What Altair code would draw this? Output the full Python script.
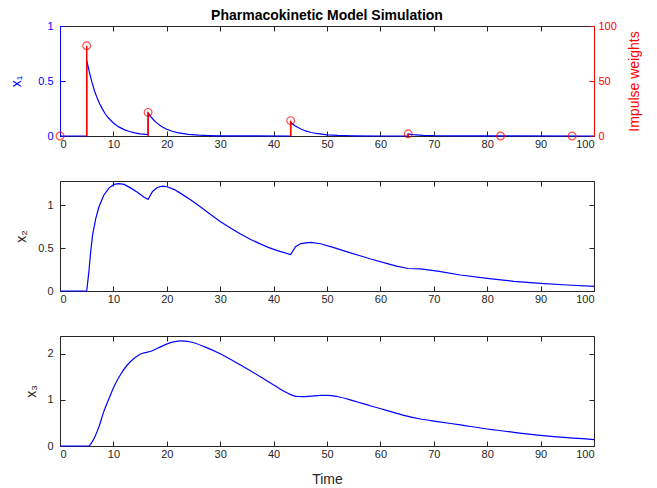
import altair as alt
import pandas as pd

# ---------------- data ----------------
t1 = [0, 5, 5, 5.5, 6, 6.5, 7, 7.5, 8, 8.5, 9, 10, 11, 12, 13, 14, 15, 16.5, 16.5,
      17, 17.5, 18, 19, 20, 21, 22, 24, 26, 28, 30, 35, 43.2, 43.2, 44, 45, 46, 47,
      48, 50, 52, 55, 60, 65.2, 65.2, 66, 68, 70, 75, 100]
x1 = [0, 0, 0.69, 0.58, 0.485, 0.405, 0.34, 0.285, 0.24, 0.2, 0.168, 0.118, 0.083,
      0.058, 0.041, 0.029, 0.02, 0.012, 0.21, 0.176, 0.148, 0.124, 0.087, 0.061,
      0.043, 0.03, 0.015, 0.0075, 0.004, 0.002, 0.0003, 0, 0.125, 0.094, 0.066,
      0.046, 0.032, 0.023, 0.011, 0.0055, 0.002, 0.0002, 0, 0.018, 0.013, 0.0065,
      0.003, 0.0005, 0]

t2 = [0, 5, 5.4, 5.75, 6.1, 6.7, 7.3, 8.2, 9.2, 10.1, 11, 12, 13.2, 14.5, 15.7,
      16.5, 17.3, 18.2, 19.2, 20.1, 21.4, 22.6, 24.5, 26.4, 28.2, 30, 32, 33.8,
      35.7, 37.6, 39, 40.7, 43.2, 44.1, 45.1, 46.9, 48.8, 51.3, 53.8, 56.2, 58.2,
      61.3, 63, 65.2, 67.5, 70.7, 75, 80, 85, 90, 95, 100]
x2 = [0, 0, 0.22, 0.46, 0.65, 0.845, 0.98, 1.115, 1.2, 1.24, 1.25, 1.24, 1.2, 1.15,
      1.095, 1.065, 1.155, 1.205, 1.22, 1.213, 1.18, 1.136, 1.058, 0.975, 0.89,
      0.81, 0.73, 0.663, 0.6, 0.545, 0.508, 0.47, 0.425, 0.515, 0.552, 0.565, 0.55,
      0.505, 0.455, 0.41, 0.372, 0.318, 0.29, 0.262, 0.258, 0.232, 0.186, 0.147,
      0.112, 0.089, 0.07, 0.054]

t3 = [0, 5.4, 5.8, 6.4, 7.3, 8.2, 9.2, 10.1, 11.4, 12.6, 13.9, 15.1, 16.4, 17.3,
      18.9, 20.7, 22.6, 24.5, 27, 30.1, 33.8, 37.6, 40.1, 41.2, 42.6, 43.5, 44.5,
      45.5, 47, 48.8, 50.1, 51.9, 55, 58.2, 61.3, 64.4, 67.5, 70.7, 75, 80, 85, 90,
      95, 100]
x3 = [0, 0, 0.05, 0.167, 0.42, 0.746, 1.036, 1.29, 1.565, 1.76, 1.906, 2.0, 2.04,
      2.07, 2.16, 2.246, 2.283, 2.26, 2.16, 2.0, 1.76, 1.5, 1.32, 1.24, 1.15, 1.1,
      1.075, 1.072, 1.085, 1.1, 1.1, 1.075, 0.98, 0.87, 0.77, 0.667, 0.587, 0.53,
      0.457, 0.37, 0.297, 0.232, 0.18, 0.14]

imp_t = [0, 5, 16.5, 43.2, 65.2, 82.5, 95.9]
imp_w = [0, 82, 21.5, 14, 2, 0, 0]

x_ticks = [0, 10, 20, 30, 40, 50, 60, 70, 80, 90, 100]
y1_ticks = [0, 0.5, 1]
y2_ticks = [0, 0.5, 1]
y3_ticks = [0, 1, 2]
w_ticks = [0, 50, 100]

# ---------------- styling ----------------
W, H = 534, 110
FONT = "Liberation Sans"
AX = "#262626"
BLUE = "#0000FF"
RED = "#FF0000"

df1 = pd.DataFrame({"t": t1, "v": x1, "i": list(range(len(t1)))})
df2 = pd.DataFrame({"t": t2, "v": x2, "i": list(range(len(t2)))})
df3 = pd.DataFrame({"t": t3, "v": x3, "i": list(range(len(t3)))})
dfi = pd.DataFrame({"t": imp_t, "w": imp_w})

xs = alt.Scale(domain=[0, 100], nice=False, zero=False)


def x_bottom(title):
    return alt.Axis(orient="bottom", offset=-5, tickSize=5, domain=False, grid=False,
                    values=x_ticks, format="d", labelPadding=2,
                    tickColor=AX, labelColor=AX, titleColor=AX,
                    title=title, titlePadding=13)


def x_top():
    return alt.Axis(orient="top", offset=-5, tickSize=5, domain=False, grid=False,
                    values=x_ticks, labels=False, tickColor=AX, title=None)


def std_panel(df, ymax, yticks, ylabel, xtitle, interp, tpad):
    ysc = alt.Scale(domain=[0, ymax], nice=False, zero=False)
    a = alt.Chart(df).mark_line(color=BLUE, strokeWidth=1.2, interpolate=interp).encode(
        x=alt.X("t:Q", scale=xs, axis=x_bottom(xtitle)),
        y=alt.Y("v:Q", scale=ysc,
                axis=alt.Axis(orient="left", offset=-5, tickSize=5, domain=False,
                              grid=False, values=yticks, format=".1~f",
                              labelPadding=7, tickColor=AX, labelColor=AX,
                              titleColor=AX, title=ylabel, titlePadding=tpad)),
        order="i:Q",
    )
    b = alt.Chart(df).mark_line(opacity=0).encode(
        x=alt.X("t:Q", scale=xs, axis=x_top()),
        y=alt.Y("v:Q", scale=ysc,
                axis=alt.Axis(orient="right", offset=-5, tickSize=5, domain=False,
                              grid=False, values=yticks, labels=False,
                              tickColor=AX, title=None)),
        order="i:Q",
    )
    return alt.layer(a, b).resolve_axis(x="independent", y="independent").properties(
        width=W, height=H)


# ---- panel 1 (x1 and impulses) ----
y1s = alt.Scale(domain=[0, 1], nice=False, zero=False)
ws = alt.Scale(domain=[0, 100], nice=False, zero=False)

p1a = alt.Chart(df1).mark_line(color=BLUE, strokeWidth=1.2).encode(
    x=alt.X("t:Q", scale=xs, axis=x_bottom(None)),
    y=alt.Y("v:Q", scale=y1s,
            axis=alt.Axis(orient="left", offset=0, ticks=False, tickSize=0,
                          domain=True, domainColor=BLUE, grid=False,
                          values=y1_ticks, format=".1~f", labelPadding=7,
                          labelColor=BLUE, title="x₁", titleColor=BLUE,
                          titlePadding=14)),
    order="i:Q",
)
p1b = alt.Chart(df1).mark_line(opacity=0).encode(
    x=alt.X("t:Q", scale=xs, axis=x_top()),
    y=alt.Y("v:Q", scale=y1s,
            axis=alt.Axis(orient="right", offset=-W, tickSize=5, domain=False,
                          grid=False, values=y1_ticks, labels=False,
                          tickColor=BLUE, title=None)),
    order="i:Q",
)
p1c = alt.Chart(dfi).mark_rule(color=RED, strokeWidth=1.5).encode(
    x=alt.X("t:Q", scale=xs, axis=None),
    y=alt.Y("w:Q", scale=ws,
            axis=alt.Axis(orient="right", offset=0, ticks=False, tickSize=0,
                          domain=True, domainColor=RED, grid=False,
                          values=w_ticks, format="d", labelPadding=4,
                          labelColor=RED, title="Impulse weights",
                          titleColor=RED, titleAngle=270, titlePadding=25)),
    y2=alt.datum(0),
)
p1d = alt.Chart(dfi).mark_point(shape="circle", filled=False, color=RED, size=60,
                                strokeWidth=1.2, clip=False).encode(
    x=alt.X("t:Q", scale=xs, axis=None),
    y=alt.Y("w:Q", scale=ws,
            axis=alt.Axis(orient="left", offset=-W, tickSize=5, domain=False,
                          grid=False, values=w_ticks, labels=False,
                          tickColor=RED, title=None)),
)
p1 = alt.layer(p1a, p1b, p1c, p1d).resolve_scale(y="independent").resolve_axis(
    x="independent", y="independent").properties(
    width=W, height=H,
    title=alt.TitleParams("Pharmacokinetic Model Simulation", anchor="middle",
                          frame="group", font=FONT, fontSize=14, fontWeight="bold",
                          color="#000000", offset=-3))

p2 = std_panel(df2, 1.28, y2_ticks, "x₂", None, "linear", 9)
p3 = std_panel(df3, 2.39, y3_ticks, "x₃", "Time", "monotone", 8)

chart = alt.vconcat(p1, p2, p3, spacing=45, bounds="flush").properties(
    padding={"left": 1, "top": 0, "right": 2, "bottom": 0},
    background="white",
).configure_view(stroke=AX, strokeWidth=1).configure_axis(
    labelFont=FONT, titleFont=FONT, labelFontSize=11, titleFontSize=14,
    titleFontWeight="normal", grid=False,
)

chart.save("out.html", embed_options={"renderer": "svg", "actions": False})
